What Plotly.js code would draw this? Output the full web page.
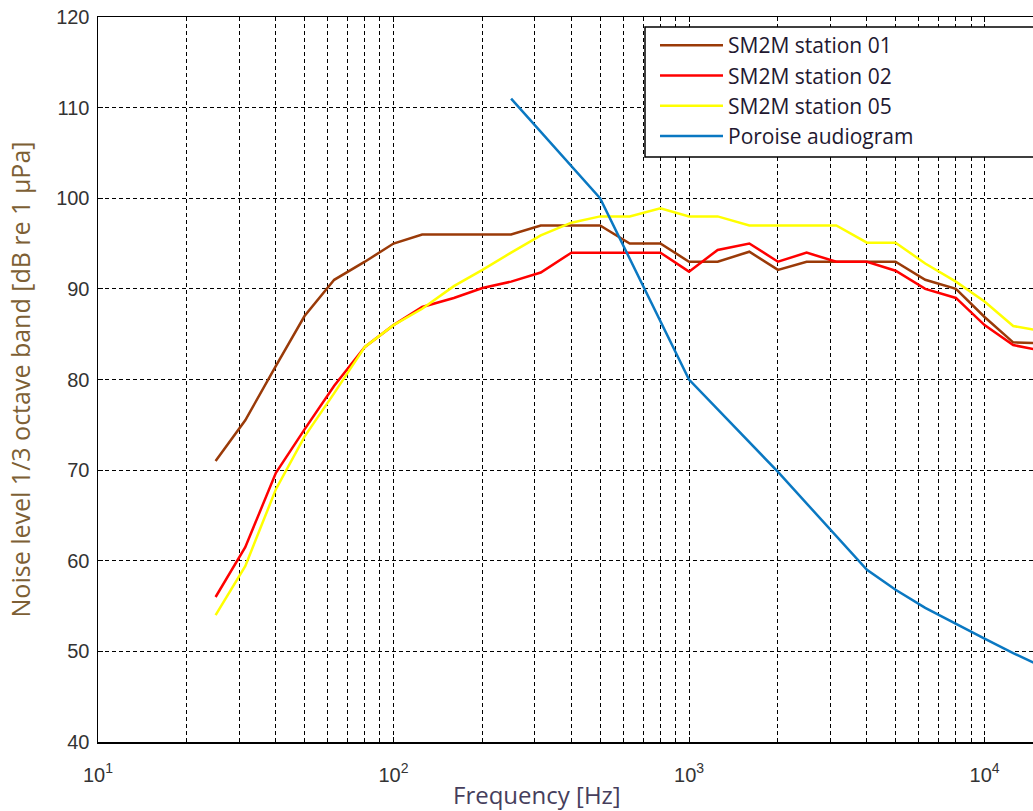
<!DOCTYPE html>
<html>
<head>
<meta charset="utf-8">
<script src="https://cdn.plot.ly/plotly-3.0.1.min.js"></script>
<style>html,body{margin:0;padding:0;background:#fff;}#chart{width:1033px;height:811px;}</style>
</head>
<body>
<div id="chart"></div>
<script>
// 1/3-octave band centre frequencies [Hz]
const freq = [25, 31.5, 40, 50, 63, 80, 100, 125, 160, 200, 250, 315, 400, 500, 630, 800, 1000, 1250, 1600, 2000, 2500, 3150, 4000, 5000, 6300, 8000, 10000, 12500, 16000];
// Noise level, dB re 1 µPa
const station01 = [71, 75.5, 81.5, 87, 91, 93, 95, 96, 96, 96, 96, 97, 97, 97, 95, 95, 93, 93, 94.1, 92.1, 93, 93, 93, 93, 91, 90, 86.9, 84.1, 84];
const station02 = [56, 61.5, 69.7, 74.5, 79.3, 83.6, 86, 88, 89, 90.1, 90.8, 91.8, 94, 94, 94, 94, 91.9, 94.3, 95, 93, 94, 93, 93, 92, 90, 89, 86, 83.8, 83.1];
const station05 = [54, 59.4, 67.9, 73.7, 78.5, 83.6, 86, 87.8, 90.3, 92.1, 94, 95.9, 97.3, 98, 98, 98.9, 98, 98, 97, 97, 97, 97, 95.1, 95.1, 92.8, 90.8, 88.6, 85.9, 85.3];
// Porpoise audiogram
const audioFreq = [250, 500, 1000, 2000, 4000, 5000, 6300, 8000, 10000, 12500, 16000];
const audioLevel = [111, 100, 80, 69.8, 59, 56.8, 54.8, 53, 51.4, 49.8, 48.2];

const seriesNames = ["SM2M station 01", "SM2M station 02", "SM2M station 05", "Poroise audiogram"];
const yTicks = [40, 50, 60, 70, 80, 90, 100, 110, 120];
const decades = [10, 100, 1000, 10000];
const decadeLabels = ["10<sup>1</sup>", "10<sup>2</sup>", "10<sup>3</sup>", "10<sup>4</sup>"];
const xTitle = "Frequency [Hz]";
const yTitle = "Noise level 1/3 octave band [dB re 1 µPa]";

// log-axis minor tick positions (2..9 x each decade)
const xMinorVals = [];
decades.forEach(d => { for (let m = 2; m <= 9; m++) xMinorVals.push(d * m); });

const calibri = "Open Sans, Lato, sans-serif";
const traces = [
  {x: freq, y: station01, name: seriesNames[0], mode: "lines", line: {color: "#9A3A08", width: 2.5}},
  {x: freq, y: station02, name: seriesNames[1], mode: "lines", line: {color: "#FF0000", width: 2.5}},
  {x: freq, y: station05, name: seriesNames[2], mode: "lines", line: {color: "#FFFF00", width: 2.5}},
  {x: audioFreq, y: audioLevel, name: seriesNames[3], mode: "lines", line: {color: "#0A78C2", width: 2.5}}
];

const gridCommon = {
  showgrid: true, gridcolor: "#000", gridwidth: 1, griddash: "4px,3px",
  showline: true, linecolor: "#000", linewidth: 1.5,
  ticks: "inside", ticklen: 5, tickcolor: "#000", tickwidth: 1,
  zeroline: false,
  tickfont: {family: "Liberation Sans, Arial, sans-serif", size: 20, color: "#333"}
};

const layout = {
  width: 1033, height: 811,
  margin: {l: 98, r: 0, t: 17, b: 69},
  paper_bgcolor: "#fff", plot_bgcolor: "#fff",
  showlegend: true,
  xaxis: Object.assign({}, gridCommon, {
    type: "log", range: [1, 4.164], mirror: "ticks",
    tickmode: "array", tickvals: decades, ticktext: decadeLabels,
    ticklabelstandoff: 14,
    minor: {tickmode: "array", tickvals: xMinorVals, ticks: "inside", ticklen: 4, tickcolor: "#000",
            showgrid: true, gridcolor: "#000", gridwidth: 1, griddash: "4px,3px"}
  }),
  yaxis: Object.assign({}, gridCommon, {
    range: [40, 120], tickmode: "array", tickvals: yTicks,
    ticklabelstandoff: 3,
    title: {text: yTitle, font: {family: calibri, size: 25, color: "#7d5f35"}, standoff: 18}
  }),
  legend: {
    x: (655 - 98) / 935, y: 0.989, xanchor: "left", yanchor: "top",
    bgcolor: "rgba(0,0,0,0)", borderwidth: 0,
    font: {family: calibri, size: 21, color: "#221830"},
    itemwidth: 63
  },
  shapes: [{
    type: "rect", xref: "paper", yref: "paper", layer: "above",
    x0: (645 - 98) / 935, x1: 1.05, y0: (742 - 157) / 725, y1: (742 - 27) / 725,
    fillcolor: "#fff", line: {color: "#000", width: 1.5}
  }],
  annotations: [{
    text: xTitle, xref: "paper", yref: "paper", x: 0.4695, y: -0.073,
    xanchor: "center", yanchor: "middle", showarrow: false,
    font: {family: calibri, size: 24, color: "#463e5c"}
  }]
};

Plotly.newPlot("chart", traces, layout, {displayModeBar: false, staticPlot: true});
</script>
</body>
</html>
